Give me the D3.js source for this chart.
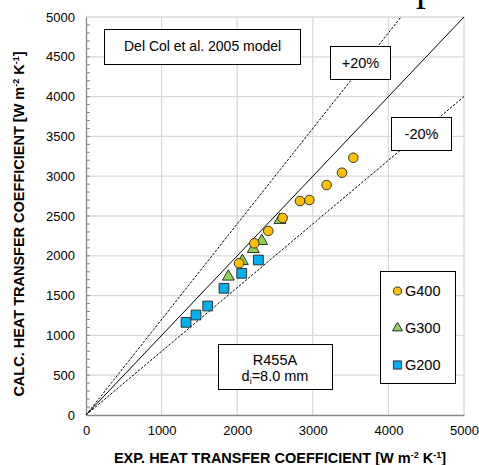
<!DOCTYPE html>
<html lang="en">
<head>
<meta charset="utf-8">
<style>
  body { margin: 0; background: #fff; }
  svg text { font-family: "Liberation Sans", Arial, sans-serif; fill: #000; }
  .grid line { stroke: #d9d9d9; stroke-width: 1.3; }
  .box rect { fill: #fff; stroke: #000; stroke-width: 1; }
</style>
<script src="https://d3js.org/d3.v7.min.js"></script>
<title>Del Col 2005 model</title>
</head>
<body>
<svg width="479" height="465"></svg>
<script>
// experimental vs calculated HTC [W m-2 K-1]
var g400 = [[2024,1906],[2226,2157],[2411,2312],[2601,2475],[2831,2688],[2954,2701],[3183,2889],[3386,3044],[3536,3232]];
var g300 = [[1883,1738],[2068,1935],[2213,2085],[2324,2186],[2566,2450]];
var g200 = [[1323,1164],[1455,1256],[1610,1369],[1825,1592],[2060,1780],[2280,1947]];
var xTicks = [0,1000,2000,3000,4000,5000];
var yTicks = [0,500,1000,1500,2000,2500,3000,3500,4000,4500,5000];
var bands = [1.2, 1.0, 0.8];

var svg = d3.select("svg");
var x = d3.scaleLinear().domain([0,5000]).range([86,464]);
var y = d3.scaleLinear().domain([0,5000]).range([415,17]);

// stray caption fragment cut off at the top
svg.append("text").attr("x", 416).attr("y", 0)
  .style("font-family", "'Liberation Serif', serif").style("font-size", "40px").text("p");

// grid
var grid = svg.append("g").attr("class", "grid");
grid.selectAll(".gx").data(xTicks.slice(1)).enter().append("line")
  .attr("x1", function(d){ return x(d); }).attr("x2", function(d){ return x(d); })
  .attr("y1", y(0)).attr("y2", y(5000));
grid.selectAll(".gy").data(yTicks.slice(1)).enter().append("line")
  .attr("y1", function(d){ return y(d); }).attr("y2", function(d){ return y(d); })
  .attr("x1", x(0)).attr("x2", x(5000));

// axes
var fmt = d3.format("d");
var yAxis = svg.append("g").attr("transform", "translate(" + x(0) + ",0)")
  .call(d3.axisLeft(y).tickValues(yTicks).tickFormat(fmt).tickSize(0).tickPadding(11));
var xAxis = svg.append("g").attr("transform", "translate(0," + y(0) + ")")
  .call(d3.axisBottom(x).tickValues(xTicks).tickFormat(fmt).tickSize(0).tickPadding(11));
[xAxis, yAxis].forEach(function(a){
  a.select(".domain").attr("stroke", "#868686").attr("stroke-width", 1.3);
  a.selectAll("text").style("font-size", "13px").attr("fill", "#000");
});
// minor ticks on y
svg.append("g").selectAll("line").data(d3.range(100, 5000, 100)).enter().append("line")
  .attr("x1", x(0)).attr("x2", x(0) + 4)
  .attr("y1", function(d){ return y(d); }).attr("y2", function(d){ return y(d); })
  .attr("stroke", "#868686").attr("stroke-width", 1);

// y = x and +/-20% lines
svg.append("g").selectAll("line").data(bands).enter().append("line")
  .attr("x1", x(0)).attr("y1", y(0))
  .attr("x2", function(k){ return x(Math.min(5000, 5000 / k)); })
  .attr("y2", function(k){ return y(Math.min(5000, 5000 * k)); })
  .attr("stroke", "#000").attr("stroke-width", 1)
  .attr("stroke-dasharray", function(k){ return k === 1 ? null : "2.5,1.5"; });

// boxes with text
function box(x0, y0, w, h) {
  return svg.append("g").attr("class", "box").append("rect")
    .attr("x", x0).attr("y", y0).attr("width", w).attr("height", h);
}
box(104.5, 29.5, 196, 35);
svg.append("text").attr("x", 124).attr("y", 51).style("font-size", "14px").text("Del Col et al. 2005 model");
box(330.5, 46.5, 60, 33);
svg.append("text").attr("x", 360.5).attr("y", 68).attr("text-anchor", "middle").style("font-size", "14.5px").text("+20%");
box(391.5, 117.5, 60, 33);
svg.append("text").attr("x", 421.5).attr("y", 139).attr("text-anchor", "middle").style("font-size", "14.5px").text("-20%");
box(218.5, 344.5, 114, 45);
svg.append("text").attr("x", 275).attr("y", 365).attr("text-anchor", "middle").style("font-size", "14.5px").text("R455A");
var dt = svg.append("text").attr("x", 275).attr("y", 381).attr("text-anchor", "middle").style("font-size", "14.5px");
dt.append("tspan").text("d");
dt.append("tspan").attr("dy", 3).style("font-size", "9px").text("i");
dt.append("tspan").attr("dy", -3).text("=8.0 mm");

// markers
var series = [
  { name: "G200", data: g200, shape: d3.symbolSquare, size: 95, fill: "#00b0f0" },
  { name: "G300", data: g300, shape: d3.symbolTriangle, size: 62, fill: "#92d050" },
  { name: "G400", data: g400, shape: d3.symbolCircle, size: 72, fill: "#ffc000" }
];
series.forEach(function(s){
  svg.append("g").selectAll("path").data(s.data).enter().append("path")
    .attr("d", d3.symbol().type(s.shape).size(s.size))
    .attr("transform", function(d){ return "translate(" + x(d[0]) + "," + y(d[1]) + ")"; })
    .attr("fill", s.fill).attr("stroke", "#333").attr("stroke-width", 1);
});

// legend
box(380.5, 271.5, 75, 112);
var legendRows = series.slice().reverse();
legendRows.forEach(function(s, i){
  var ly = 291 + i * 37;
  svg.append("path").attr("d", d3.symbol().type(s.shape).size(s.size * 0.7))
    .attr("transform", "translate(397.5," + ly + ")")
    .attr("fill", s.fill).attr("stroke", "#333").attr("stroke-width", 1);
  svg.append("text").attr("x", 405).attr("y", ly + 5).style("font-size", "14.5px").text(s.name);
});

// axis titles
function unitTitle(t, label) {
  t.style("font-size", "14.5px").style("font-weight", "bold");
  t.append("tspan").text(label + " [W m");
  t.append("tspan").attr("dy", -5).style("font-size", "9px").text("-2");
  t.append("tspan").attr("dy", 5).text(" K");
  t.append("tspan").attr("dy", -5).style("font-size", "9px").text("-1");
  t.append("tspan").attr("dy", 5).text("]");
}
unitTitle(svg.append("text").attr("x", 280).attr("y", 463).attr("text-anchor", "middle"),
  "EXP. HEAT TRANSFER COEFFICIENT");
unitTitle(svg.append("text").attr("transform", "translate(24,224) rotate(-90)").attr("text-anchor", "middle"),
  "CALC. HEAT TRANSFER COEFFICIENT");
</script>
</body>
</html>
